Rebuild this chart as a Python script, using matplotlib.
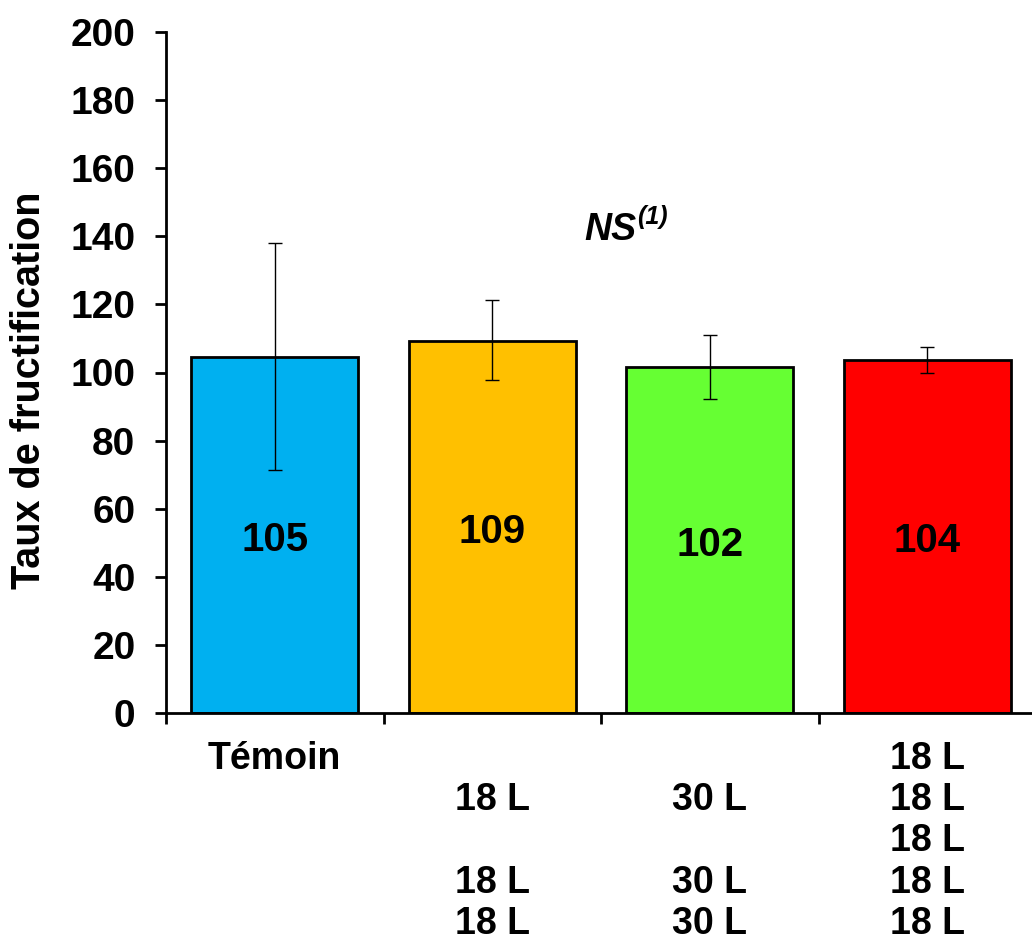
import matplotlib
matplotlib.use("Agg")
import matplotlib.pyplot as plt

categories = ["Témoin", "\n18 L\n\n18 L\n18 L", "\n30 L\n\n30 L\n30 L", "18 L\n18 L\n18 L\n18 L\n18 L"]
values = [104.6, 109.2, 101.6, 103.7]
labels = ["105", "109", "102", "104"]
err_low = [33.2, 11.4, 9.4, 3.8]
err_high = [33.4, 12.1, 9.4, 3.8]
colors = ["#00B0F0", "#FFC000", "#66FF33", "#FF0000"]

plt.rcParams['font.family'] = ['Liberation Sans', 'DejaVu Sans']
plt.rcParams['font.weight'] = 'bold'

fig = plt.figure(figsize=(10.32, 9.39), dpi=100)
ax = fig.add_axes([166/1032, 1-713/939, (1036-166)/1032, (713-32)/939])

x = list(range(len(values)))
ax.bar(x, values, width=0.77, color=colors, edgecolor='black', linewidth=2, zorder=2)
ax.errorbar(x, values, yerr=[err_low, err_high], fmt='none', ecolor='black',
            elinewidth=1, capsize=5, capthick=1, zorder=3)
for xi, v, lab in zip(x, values, labels):
    ax.annotate(lab, (xi, v/2), xytext=(0, -5), textcoords='offset pixels',
                ha='center', va='center', fontsize=29, fontweight='bold')

ax.set_xlim(-0.5, 3.5)
ax.set_ylim(0, 200)
ax.set_yticks(range(0, 201, 20))
ax.tick_params(axis='y', labelsize=28, length=8, width=2, pad=14)
ax.set_xticks(x)
ax.set_xticklabels(categories, fontsize=27, fontweight='bold', linespacing=1.19, va='top')
ax.tick_params(axis='x', which='major', length=0, pad=20)
ax.set_xticks([-0.5, 0.5, 1.5, 2.5, 3.5], minor=True)
ax.tick_params(axis='x', which='minor', length=8, width=2)
for lab in ax.get_yticklabels():
    lab.set_fontweight('bold')

for s in ['top', 'right']:
    ax.spines[s].set_visible(False)
ax.spines['left'].set_linewidth(2)
ax.spines['bottom'].set_linewidth(2)

ax.set_ylabel("Taux de fructification", fontsize=28.5, fontweight='bold')
ax.yaxis.set_label_coords(-0.136, 0.474)

ax.text(1.665, 138.9, "NS", ha='right', va='baseline', fontsize=27, fontweight='bold', style='italic')
ax.text(1.665, 143.5, "(1)", ha='left', va='baseline', fontsize=18, fontweight='bold', style='italic')

fig.savefig("out.png", dpi=100)
